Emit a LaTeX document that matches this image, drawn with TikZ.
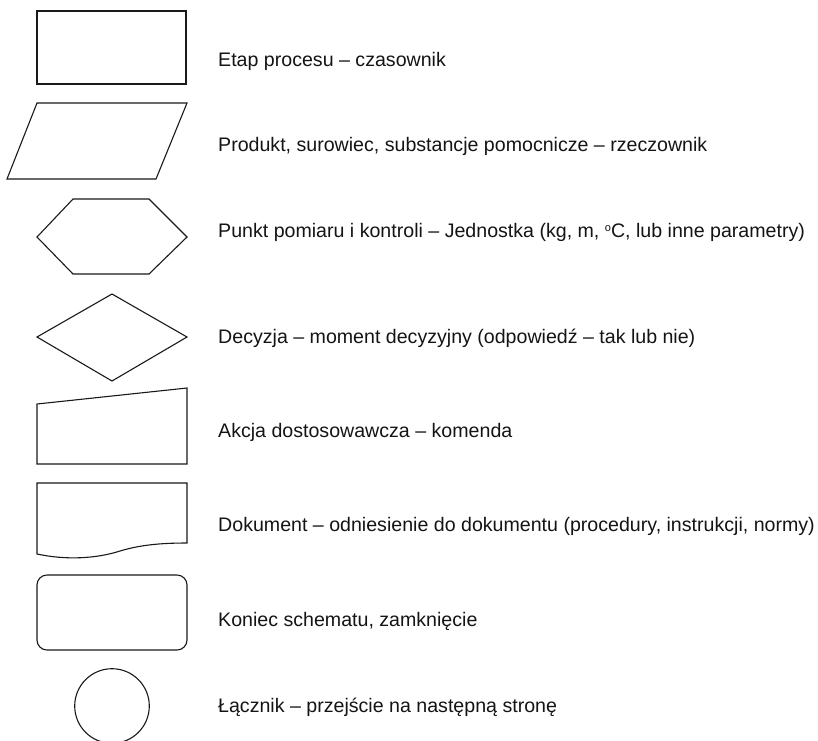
\documentclass[tikz,border=0pt]{standalone}
\usepackage{fontspec}
\setmainfont{Liberation Sans}
\begin{document}
\begin{tikzpicture}[x=1pt,y=-1pt,
  shp/.style={draw=black!90, line width=1.1pt, line join=miter},
  lbl/.style={anchor=base west, inner sep=0pt, font=\fontsize{19.6}{22}\selectfont, text=black!92}]
\useasboundingbox (0,0) rectangle (818,740);
\clip (0,0) rectangle (818,740);
% shapes
\draw[shp] (37,11) rectangle (186,84);
\draw[shp] (37,103) -- (187,103) -- (156,179) -- (7,179) -- cycle;
\draw[shp] (73,199) -- (149,199) -- (187,237) -- (149,274) -- (73,274) -- (37,237) -- cycle;
\draw[shp] (112,294) -- (187,337) -- (112,381) -- (37,337) -- cycle;
\draw[shp] (37,404) -- (187,388) -- (187,464) -- (37,464) -- cycle;
\draw[shp] (37,483) -- (187,483) -- (187,543)
  .. controls (160,543) and (140,545) .. (120,551)
  .. controls (95,559) and (65,560) .. (37,554) -- cycle;
\draw[shp, rounded corners=10pt] (37,575) rectangle (187,650);
\draw[shp] (112,706) circle[radius=37.3];
% labels
\node[lbl] (t1) at (218,66.5) {Etap procesu – czasownik};
\node[lbl] (t2) at (218,151.5) {Produkt, surowiec, substancje pomocnicze – rzeczownik};
\node[lbl] (t3) at (218,237) {Punkt pomiaru i kontroli – Jednostka (kg, m, \raisebox{0.55ex}{\fontsize{11}{12}\selectfont o}C, lub inne parametry)};
\node[lbl] (t4) at (218,343) {Decyzja – moment decyzyjny (odpowiedź – tak lub nie)};
\node[lbl] (t5) at (218,437) {Akcja dostosowawcza – komenda};
\node[lbl] (t6) at (218,531) {Dokument – odniesienie do dokumentu (procedury, instrukcji, normy)};
\node[lbl] (t7) at (218,626.5) {Koniec schematu, zamknięcie};
\node[lbl] (t8) at (218,712) {Łącznik – przejście na następną stronę};
\end{tikzpicture}
\end{document}
